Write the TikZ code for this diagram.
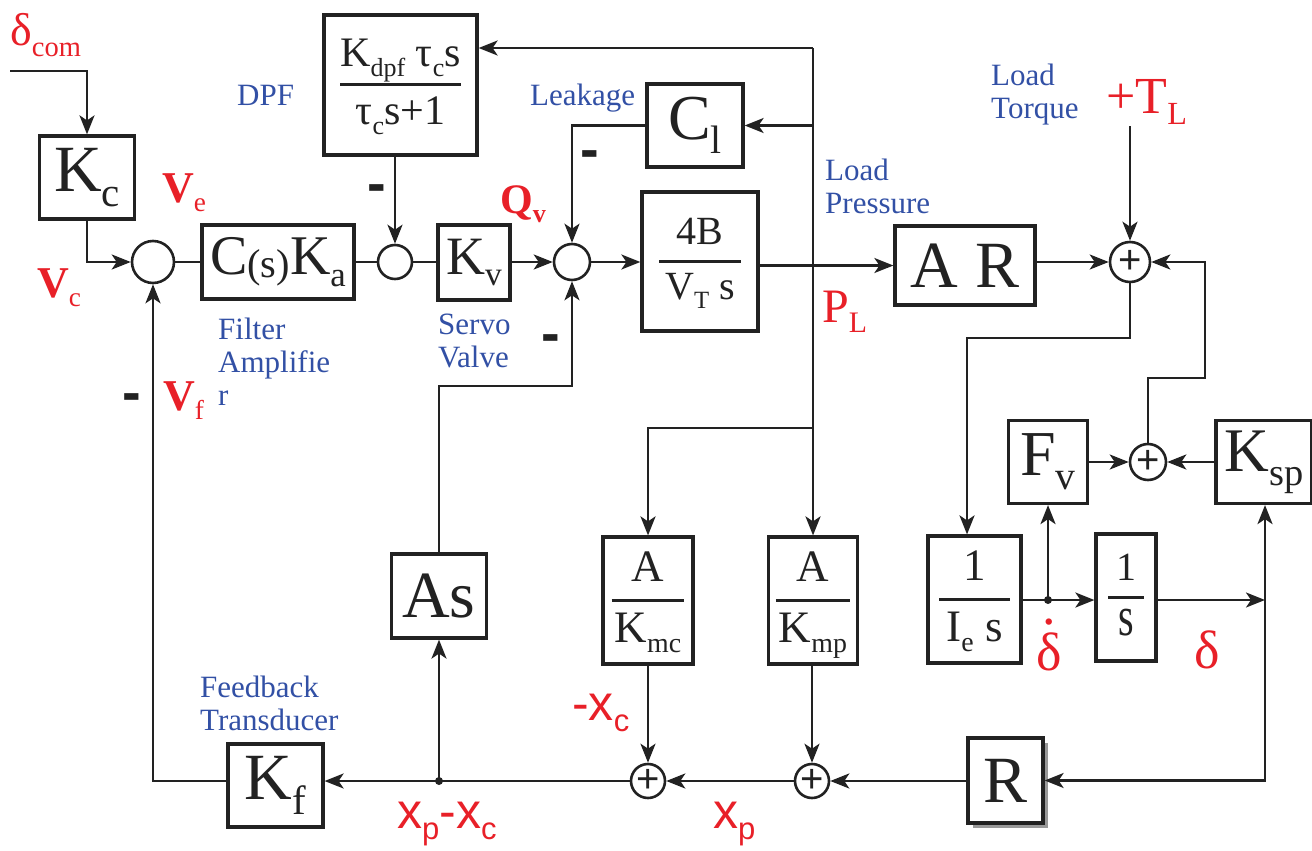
\documentclass[tikz,border=0pt]{standalone}
\usepackage{fontspec}
\setmainfont{Liberation Serif}
\newfontfamily\sansf{Liberation Sans}
\usetikzlibrary{arrows.meta, shadows}

\definecolor{sigred}{RGB}{232,32,40}
\definecolor{noteblue}{RGB}{50,80,165}
\definecolor{ink}{RGB}{34,34,34}
\setlength{\arrayrulewidth}{3pt}
\newcommand{\fs}[2]{\fontsize{#1}{#2}\selectfont}
\newcommand{\lo}[1]{\raisebox{-0.22em}{\scalebox{0.62}{#1}}}
\newcommand{\frc}[3][0pt]{\begin{tabular}{@{\hspace{#1}}c@{\hspace{#1}}}#2\\\hline #3\end{tabular}}

\begin{document}
\begin{tikzpicture}[x=1pt, y=-1pt, >={Stealth[length=19pt,width=15pt,inset=5pt]},
    wire/.style={draw=ink, line width=2.6pt},
    feed/.style={wire, ->},
    blk/.style={draw=ink, line width=3.2pt, fill=white, inner sep=0pt, text=ink},
    sumnode/.style={circle, draw=ink, line width=2.6pt, fill=white, inner sep=0pt, minimum size=#1},
    sumplus/.style={sumnode=#1, text=ink, font=\sansf\fs{40}{48}},
    sig/.style={text=sigred, inner sep=0pt, anchor=base west},
    note/.style={text=noteblue, inner sep=0pt, anchor=base west, align=left, font=\fs{31}{33}},
    neg/.style={text=ink, inner sep=0pt, anchor=base, font=\sansf\bfseries\fs{56}{60}}]

    \useasboundingbox (0,0) rectangle (1312,851);

    % Caminho direto
    \node[blk, minimum width=95pt, minimum height=83pt, font=\fs{66}{80}] (kc) at (87,177.5) {K\lo{c}};
    \node[sumnode=42pt] (s1) at (153,262) {};
    \node[blk, minimum width=152pt, minimum height=74pt, font=\fs{56}{68}] (filt) at (278,262) {C\raisebox{-0.06em}{\scalebox{0.72}{(s)}}K\lo{a}};
    \node[sumnode=34pt] (s2) at (395,262) {};
    \node[blk, minimum width=72pt, minimum height=75pt, font=\fs{54}{66}] (kv) at (474,262.5) {K\lo{v}};
    \node[sumnode=36pt] (s3) at (572,262) {};
    \node[blk, minimum width=116pt, minimum height=139pt, font=\fs{40}{52}] (vt) at (700,261.5) {\frc[6pt]{4B}{V\lo{T} s}};
    \node[blk, minimum width=140pt, minimum height=79pt, font=\fs{66}{80}] (ar) at (965,265.5) {A R};
    \node[sumplus=40pt] (s4) at (1130,262) {+};

    % DPF e vazamento
    \node[blk, minimum width=153pt, minimum height=140pt, font=\fs{42}{55}] (dpf) at (400.5,85) {\frc{K\lo{dpf} τ\lo{c}s}{τ\lo{c}s+1}};
    \node[blk, minimum width=96pt, minimum height=83pt, font=\fs{64}{78}] (cl) at (695,125.5) {C\lo{l}};

    % Dinamica da carga
    \node[blk, minimum width=79pt, minimum height=83pt, font=\fs{64}{78}] (fv) at (1048,462) {F\lo{v}};
    \node[sumplus=36pt] (s5) at (1148,462) {+};
    \node[blk, minimum width=96pt, minimum height=83pt, font=\fs{62}{76}] (ksp) at (1264,462) {K\lo{sp}};
    \node[blk, minimum width=93pt, minimum height=127pt, font=\fs{45}{58}] (ies) at (974.5,599.5) {\frc[7pt]{1}{I\lo{e} s}};
    \node[blk, minimum width=60pt, minimum height=127pt, font=\fs{40}{52}] (ints) at (1126,597.5) {\frc[8pt]{1}{\scalebox{1}[1.4]{s}}};

    % Vazao do pistao
    \node[blk, minimum width=95pt, minimum height=84pt, font=\fs{66}{80}] (as) at (439,596) {As};
    \node[blk, minimum width=90pt, minimum height=127pt, font=\fs{45}{58}] (kmc) at (648,600.5) {\frc[3pt]{A}{K\lo{mc}}};
    \node[blk, minimum width=89pt, minimum height=127pt, font=\fs{45}{58}] (kmp) at (813,600.5) {\frc[3pt]{A}{K\lo{mp}}};

    % Realimentacao
    \node[blk, minimum width=95pt, minimum height=83pt, font=\fs{66}{80}] (kf) at (275.5,785.5) {K\lo{f}};
    \node[sumplus=34pt] (s7) at (648,781) {+};
    \node[sumplus=34pt] (s6) at (812,781) {+};
    \node[blk, minimum width=75pt, minimum height=85pt, font=\fs{66}{80},
        drop shadow={shadow xshift=5pt, shadow yshift=-5pt, fill=black!40, opacity=1}] (rb) at (1005.5,780.5) {R};

    % Coordenadas auxiliares
    \coordinate (cin) at (10,71);
    \coordinate (ptop) at (813,48);
    \coordinate (pbr) at (813,428);
    \coordinate (tl) at (1130,126);
    \coordinate (ret) at (1205,378);
    \coordinate (tq) at (967,338);
    \coordinate (dd) at (1048,600);
    \coordinate (dl) at (1265,600);
    \coordinate (xj) at (439,781);
    \coordinate (asv) at (572,386);

    % Ligacoes do caminho direto
    \draw[feed] (cin) -| (kc.north);
    \draw[feed] (kc.south) |- (s1.west);
    \draw[wire] (s1.east) -- (filt.west);
    \draw[wire] (filt.east) -- (s2.west);
    \draw[wire] (s2.east) -- (kv.west |- s2);
    \draw[feed] (kv.east |- s3) -- (s3.west);
    \draw[feed] (s3.east) -- (s3 -| vt.west);
    \draw[feed] (dpf.south -| s2) -- (s2.north);
    \draw[feed] (cl.west) -| (s3.north);
    \draw[feed] (vt.east |- ar) -- (ar.west);
    \draw[feed] (ar.east |- s4) -- (s4.west);

    % Pressao de carga
    \draw[wire] (ptop) -- (pbr);
    \draw[feed] (pbr) -- (kmp.north);
    \draw[feed] (pbr) -| (kmc.north);
    \draw[feed] (ptop) -- (ptop -| dpf.east);
    \draw[feed] (ptop |- cl) -- (cl.east);

    % Torque e dinamica
    \draw[feed] (tl) -- (s4.north);
    \draw[feed] (s5.north) |- (ret) |- (s4.east);
    \draw[feed] (s4.south) |- (tq) -- (tq |- ies.north);
    \draw[feed] (fv.east) -- (s5.west);
    \draw[feed] (ksp.west) -- (s5.east);
    \draw[wire] (ies.east |- dd) -- (dd);
    \draw[feed] (dd) -- (ints.west |- dd);
    \draw[feed] (dd) -- (fv.south);
    \fill[ink] (dd) circle (4pt);
    \draw[feed] (ints.east |- dl) -- (dl);
    \draw[feed] (dl) -- (ksp.south -| dl);
    \draw[feed] (dl) |- (rb.east);

    % Realimentacao de posicao
    \draw[feed] (rb.west |- s6) -- (s6.east);
    \draw[feed] (s6.west) -- (s7.east);
    \draw[feed] (s7.west) -- (s7 -| kf.east);
    \draw[feed] (kmc.south) -- (s7.north);
    \draw[feed] (kmp.south -| s6) -- (s6.north);
    \draw[feed] (xj) -- (as.south);
    \fill[ink] (xj) circle (4pt);
    \draw[feed] (as.north) |- (asv) -- (s3.south);
    \draw[feed] (s7 -| kf.west) -| (s1.south);

    % Sinais
    \node[sig, font=\fs{46}{55}] (dcom) at (10,46) {δ\lo{com}};
    \node[sig, font=\bfseries\fs{44}{52}] (ve) at (162,202) {V\lo{\mdseries e}};
    \node[sig, font=\bfseries\fs{44}{52}] (vc) at (37,297) {V\lo{\mdseries c}};
    \node[sig, font=\bfseries\fs{44}{52}] (vf) at (163,410) {V\lo{\mdseries f}};
    \node[sig, font=\bfseries\fs{42}{50}] (qv) at (500,213) {Q\lo{v}};
    \node[sig, font=\fs{48}{58}] (pl) at (822,322) {P\lo{L}};
    \node[sig, font=\fs{52}{62}] (tll) at (1106,113) {+T\lo{L}};
    \node[sig, font=\fs{54}{64}, anchor=base] (ddot) at (1049,670) {\shortstack{.\\[4pt]δ}};
    \node[sig, font=\fs{54}{64}, anchor=base] (dlab) at (1207,668) {δ};
    \node[sig, font=\sansf\fs{50}{60}] (xc) at (572,720) {-x\lo{c}};
    \node[sig, font=\sansf\fs{50}{60}] (xpc) at (397,828) {x\lo{p}-x\lo{c}};
    \node[sig, font=\sansf\fs{50}{60}] (xp) at (713,828) {x\lo{p}};

    % Etiquetas azuis (ancoradas na ultima linha)
    \node[note] (ndpf) at (237,105) {DPF};
    \node[note] (nleak) at (530,106) {Leakage};
    \node[note] (ntorque) at (991,118) {Load\\Torque};
    \node[note] (npress) at (825,213) {Load\\Pressure};
    \node[note] (nfilt) at (218,405) {Filter\\Amplifie\\r};
    \node[note] (nservo) at (438,367) {Servo\\Valve};
    \node[note] (nfb) at (200,730) {Feedback\\Transducer};

    % Sinais negativos
    \node[neg] (m1) at (377,202) {-};
    \node[neg] (m2) at (590,168) {-};
    \node[neg] (m3) at (551,352) {-};
    \node[neg] (m4) at (132,411) {-};

\end{tikzpicture}
\end{document}
